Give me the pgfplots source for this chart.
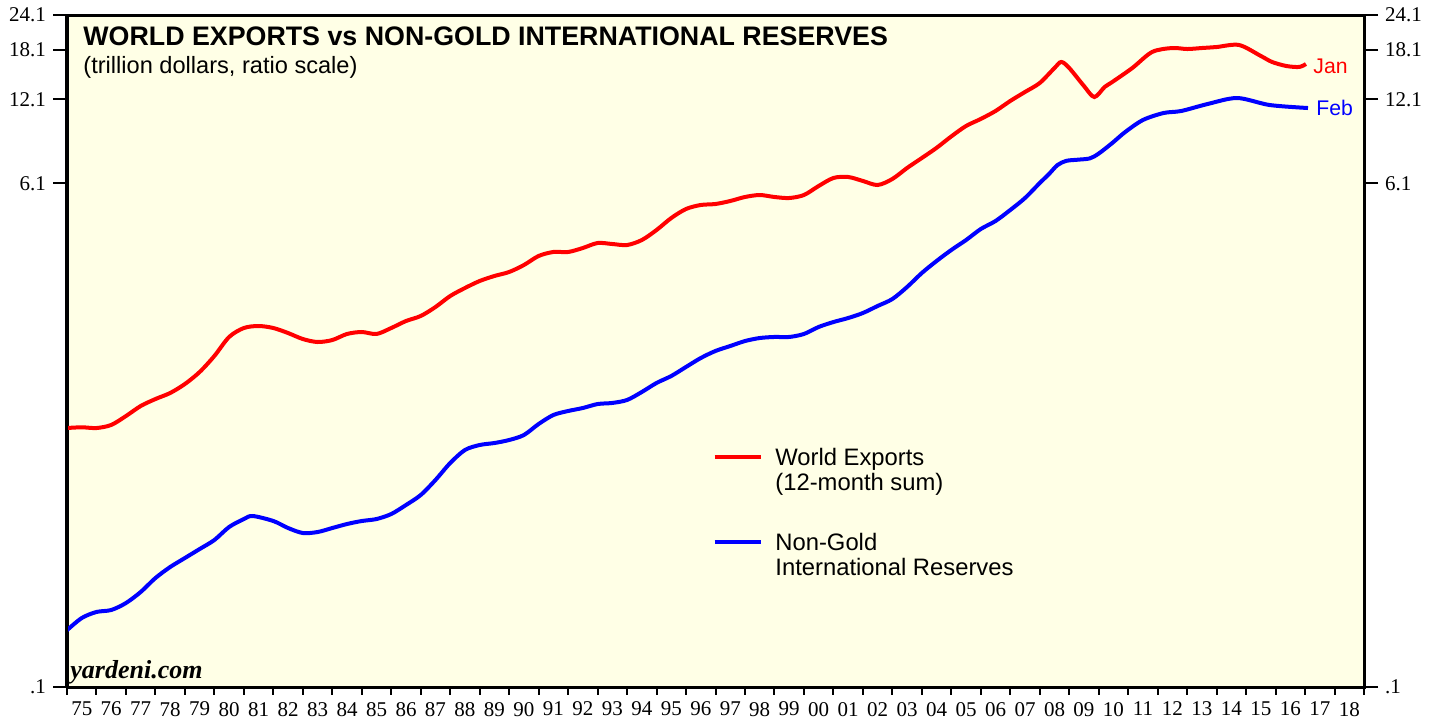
\documentclass[border=0pt]{standalone}
\usepackage{fontspec}
\setmainfont{Liberation Serif}
\newfontfamily\helv{Liberation Sans}
\usepackage{pgfplots}
\usepackage{pgfplotstable}
\pgfplotsset{compat=1.18}
\definecolor{cream}{RGB}{255,255,230}
\definecolor{yred}{RGB}{255,0,0}
\definecolor{yblue}{RGB}{0,0,255}

% world exports, 12-month sum (trillion $)
\pgfplotstableread{
year val
1975.0 0.828
1975.5 0.833
1976.0 0.828
1976.5 0.849
1977.0 0.913
1977.5 0.991
1978.0 1.049
1978.5 1.102
1979.0 1.186
1979.5 1.308
1980.0 1.491
1980.5 1.741
1981.0 1.873
1981.5 1.904
1982.0 1.873
1982.5 1.798
1983.0 1.712
1983.5 1.671
1984.0 1.698
1984.5 1.784
1985.0 1.813
1985.5 1.784
1986.0 1.873
1986.5 1.983
1987.0 2.066
1987.5 2.223
1988.0 2.432
1988.5 2.596
1989.0 2.749
1989.5 2.864
1990.0 2.959
1990.5 3.132
1991.0 3.372
1991.5 3.484
1992.0 3.484
1992.5 3.599
1993.0 3.749
1993.5 3.718
1994.0 3.688
1994.5 3.841
1995.0 4.168
1995.5 4.597
1996.0 4.948
1996.5 5.112
1997.0 5.154
1997.5 5.281
1998.0 5.457
1998.5 5.546
1999.0 5.457
1999.5 5.412
2000.0 5.546
2000.5 5.970
2001.0 6.373
2001.5 6.425
2002.0 6.219
2002.5 6.019
2003.0 6.321
2003.5 6.916
2004.0 7.503
2004.5 8.150
2005.0 8.950
2005.5 9.742
2006.0 10.32
2006.5 11.01
2007.0 11.95
2007.5 12.86
2008.0 13.84
2008.5 15.64
2008.73 16.43
2009.0 15.64
2009.5 13.50
2009.85 12.34
2010.2 13.39
2010.46 13.95
2011.14 15.64
2011.81 17.82
2012.49 18.41
2013.0 18.26
2013.5 18.41
2014.0 18.56
2014.76 18.87
2015.5 17.25
2015.88 16.43
2016.36 15.90
2016.8 15.77
2017.03 16.16
}\exports

% non-gold international reserves (trillion $)
\pgfplotstableread{
year val
1975.0 0.159
1975.5 0.1756
1976.0 0.1845
1976.5 0.1875
1977.0 0.1985
1977.5 0.2172
1978.0 0.2434
1978.5 0.2663
1979.0 0.2866
1979.5 0.3084
1980.0 0.332
1980.5 0.3692
1981.0 0.394
1981.3 0.4038
1982.0 0.3877
1982.5 0.3661
1983.0 0.3515
1983.5 0.3543
1984.0 0.3661
1984.5 0.3783
1985.0 0.3877
1985.5 0.394
1986.0 0.4104
1986.5 0.4417
1987.0 0.4793
1987.5 0.5418
1988.0 0.6224
1988.5 0.692
1989.0 0.7209
1989.5 0.7327
1990.0 0.7509
1990.5 0.7822
1991.0 0.8557
1991.5 0.9208
1992.0 0.9514
1992.5 0.975
1993.0 1.007
1993.5 1.016
1994.0 1.041
1994.5 1.111
1995.0 1.196
1995.5 1.266
1996.0 1.363
1996.5 1.466
1997.0 1.553
1997.5 1.617
1998.0 1.684
1998.5 1.726
1999.0 1.741
1999.5 1.741
2000.0 1.784
2000.5 1.889
2001.0 1.967
2001.5 2.032
2002.0 2.117
2002.5 2.242
2003.0 2.373
2003.5 2.618
2004.0 2.935
2004.5 3.237
2005.0 3.541
2005.5 3.841
2006.0 4.202
2006.5 4.486
2007.0 4.908
2007.5 5.412
2008.0 6.118
2008.3 6.560
2008.6 7.080
2008.9 7.330
2009.3 7.400
2009.7 7.480
2010.0 7.780
2010.46 8.480
2010.9 9.276
2011.5 10.23
2012.2 10.83
2012.8 11.01
2013.7 11.66
2014.7 12.24
2015.8 11.56
2017.1 11.28
}\reserves

\begin{document}
\begin{tikzpicture}
\useasboundingbox (-33.5pt,-16pt) rectangle (686pt,343.5pt);
% main axis: curves, year ticks
\begin{axis}[
  width=648.5pt, height=336pt, scale only axis,
  at={(0pt,0pt)}, anchor=south west,
  xmin=1975, xmax=2019, ymin=0.1, ymax=24.1, ymode=log,
  axis background/.style={fill=cream},
  axis line style={line width=1.5pt},
  tick align=outside,
  major tick length=4pt,
  tick style={black, line width=1pt},
  ytick=\empty,
  xtick pos=left,
  xtick={1975,1976,...,2019},
  xticklabels={75,76,77,78,79,80,81,82,83,84,85,86,87,88,89,90,91,92,93,94,95,96,97,98,99,00,01,02,03,04,05,06,07,08,09,10,11,12,13,14,15,16,17,18,{}},
  xticklabel style={font=\fontsize{10.5}{12}\selectfont, xshift=7.375pt},
]
\addplot[yred, line width=2pt, smooth, tension=0.5] table[x=year, y=val] {\exports};
\addplot[yblue, line width=2pt, smooth, tension=0.5] table[x=year, y=val] {\reserves};
% legend samples
\addplot[yred, line width=2pt] coordinates {(1996.97,0.6536) (1998.56,0.6536)};
\addplot[yblue, line width=2pt] coordinates {(1996.97,0.3266) (1998.56,0.3266)};
\end{axis}
% left value scale
\begin{axis}[
  width=648.5pt, height=336pt, scale only axis,
  at={(0pt,0pt)}, anchor=south west,
  xmin=1975, xmax=2019, ymin=0.1, ymax=24.1, ymode=log,
  hide x axis, axis y line*=left,
  axis line style={line width=1.5pt},
  tick align=outside, major tick length=7pt,
  tick style={black, line width=1pt},
  ytick={0.1,6.1,12.1,18.1,24.1},
  yticklabels={.1,6.1,12.1,18.1,24.1},
  yticklabel style={font=\fontsize{10.5}{12}\selectfont},
]
\end{axis}
% right value scale
\begin{axis}[
  width=648.5pt, height=336pt, scale only axis,
  at={(0pt,0pt)}, anchor=south west,
  xmin=1975, xmax=2019, ymin=0.1, ymax=24.1, ymode=log,
  hide x axis, axis y line*=right,
  axis line style={line width=1.5pt},
  tick align=outside, major tick length=7pt,
  tick style={black, line width=1pt},
  ytick={0.1,6.1,12.1,18.1,24.1},
  yticklabels={.1,6.1,12.1,18.1,24.1},
  yticklabel style={font=\fontsize{10.5}{12}\selectfont},
]
\end{axis}
\node[anchor=base west, font=\helv\bfseries\fontsize{13.4}{15}\selectfont, inner sep=0pt] at (8pt,320.5pt) {WORLD EXPORTS vs NON-GOLD INTERNATIONAL RESERVES};
\node[anchor=base west, font=\helv\fontsize{11.8}{13}\selectfont, inner sep=0pt] at (8pt,306.5pt) {(trillion dollars, ratio scale)};
\node[anchor=base west, font=\bfseries\itshape\fontsize{13}{15}\selectfont, inner sep=0pt] at (1.5pt,4.5pt) {yardeni.com};
\node[anchor=west, text=yred, font=\helv\fontsize{10.6}{12}\selectfont, inner sep=0pt] at (623pt,310.5pt) {Jan};
\node[anchor=west, text=yblue, font=\helv\fontsize{10.6}{12}\selectfont, inner sep=0pt] at (624.5pt,289.5pt) {Feb};
\node[anchor=base west, font=\helv\fontsize{11.9}{12.5}\selectfont, inner sep=0pt] at (354pt,111pt) {World Exports};
\node[anchor=base west, font=\helv\fontsize{11.9}{12.5}\selectfont, inner sep=0pt] at (354pt,98.5pt) {(12-month sum)};
\node[anchor=base west, font=\helv\fontsize{11.9}{12.5}\selectfont, inner sep=0pt] at (354pt,68.5pt) {Non-Gold};
\node[anchor=base west, font=\helv\fontsize{11.9}{12.5}\selectfont, inner sep=0pt] at (354pt,56pt) {International Reserves};
\end{tikzpicture}
\end{document}
